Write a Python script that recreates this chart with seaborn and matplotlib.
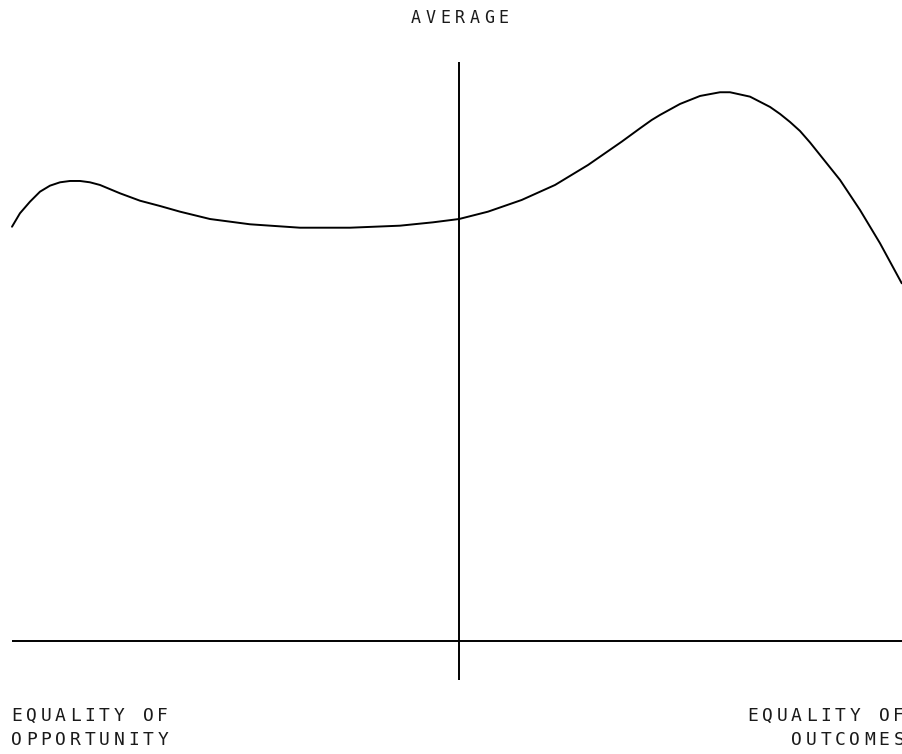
import matplotlib
matplotlib.use("Agg")
import matplotlib.pyplot as plt
import seaborn as sns
import pandas as pd

# curve (x: 0 = opportunity, 100 = outcomes)
position = [0.0, 0.89, 2.01, 3.13, 4.25, 5.37, 6.49, 7.61, 8.72, 9.84,
            12.08, 14.32, 16.55, 18.79, 22.15, 26.62, 32.21, 37.81, 43.40,
            47.09, 50.0, 53.24, 57.01, 60.74, 64.43, 68.20, 70.25, 71.55,
            72.48, 74.72, 76.96, 79.19, 80.31, 82.55, 84.79, 85.91, 87.02,
            88.14, 89.26, 90.38, 92.62, 94.85, 97.09, 99.52]
level = [71.55, 73.87, 75.87, 77.60, 78.64, 79.22, 79.45, 79.45, 79.22, 78.76,
         77.32, 76.04, 75.13, 74.15, 72.88, 71.97, 71.38, 71.38, 71.73,
         72.31, 72.88, 74.15, 76.17, 78.76, 82.21, 86.24, 88.55, 89.98,
         90.85, 92.75, 94.13, 94.77, 94.77, 94.01, 92.23, 91.02, 89.64,
         88.08, 86.10, 83.94, 79.62, 74.44, 68.69, 61.78]
average_x = 50
top_label = "AVERAGE"
left_label = ["EQUALITY OF", "OPPORTUNITY"]
right_label = ["EQUALITY OF", "OUTCOMES"]

df = pd.DataFrame({"position": position, "level": level})

sns.set_theme(style="white")
W, H = 903, 754
fig = plt.figure(figsize=(W / 100, H / 100), dpi=100)
ax = fig.add_axes([0, 0, 1, 1])

sns.lineplot(data=df, x="position", y="level", ax=ax, color="black", lw=1.4)
ax.vlines(average_x, -6.7, 100, color="black", lw=1.4)
ax.hlines(0, 0, 100, color="black", lw=1.4)

ax.set_xlim(-1.342, 99.66)
ax.set_ylim(-19.5, 110.7)
ax.set_axis_off()

FONT = ["DejaVu Sans Mono"]
ADV = 14.6  # letter-spaced monospace advance in px


def spaced(x_px, base_px, s, ha="left", size=13):
    # draw each char in its own cell to mimic letter spacing
    width = len(s) * ADV
    if ha == "center":
        x0 = x_px - width / 2
    elif ha == "right":
        x0 = x_px - width
    else:
        x0 = x_px
    for i, ch in enumerate(s):
        cx = x0 + (i + 0.5) * ADV
        fig.text(cx / W, 1 - base_px / H, ch, ha="center", va="baseline",
                 family=FONT, fontsize=size, color="#1a1a1a")


spaced(460, 23, top_label, ha="center", size=12)
spaced(9.5, 721, left_label[0])
spaced(9.5, 745, left_label[1])
spaced(906, 721, right_label[0], ha="right")
spaced(906, 745, right_label[1], ha="right")

fig.savefig("out.png", dpi=100, facecolor="white")
